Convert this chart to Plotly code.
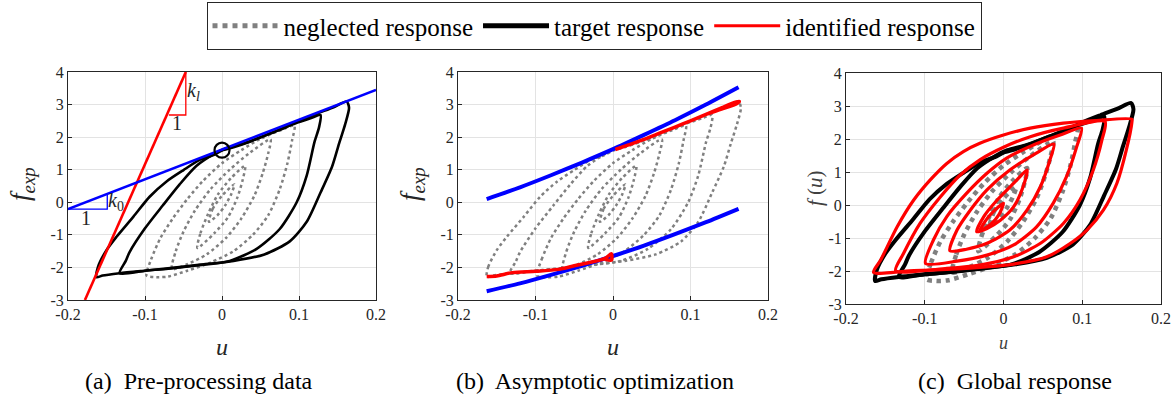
import plotly.graph_objects as go

# ---------------- data ----------------
# target response: outer loop and inner loop
B1_U = [-0.163,-0.161,-0.150,-0.137,-0.115,-0.094,-0.072,-0.050,-0.029,-0.011,0.000,0.015,0.036,0.058,0.080,0.100,0.123,0.145,0.162,0.165,0.160,0.152,0.143,0.128,0.110,0.088,0.055,0.015,-0.030,-0.070,-0.100,-0.133,-0.155,-0.163]
B1_F = [-2.30,-1.98,-1.47,-1.06,-0.44,0.17,0.64,0.99,1.30,1.45,1.59,1.69,1.86,2.07,2.27,2.50,2.72,2.92,3.09,2.90,2.40,1.80,1.10,0.30,-0.60,-1.20,-1.60,-1.80,-1.92,-2.03,-2.10,-2.18,-2.25,-2.30]
B2_U = [-0.133,-0.125,-0.120,-0.100,-0.077,-0.055,-0.033,-0.009,0.005,0.030,0.060,0.090,0.115,0.128,0.126,0.120,0.110,0.097,0.075,0.045,0.010,-0.033,-0.070,-0.100,-0.133]
B2_F = [-2.18,-1.80,-1.53,-0.80,-0.10,0.55,1.12,1.50,1.66,1.82,2.09,2.38,2.58,2.68,2.30,1.84,0.82,0.00,-0.82,-1.43,-1.80,-1.94,-2.04,-2.10,-2.18]

# neglected response: smaller loops
G1_U = [-0.098,-0.092,-0.080,-0.064,-0.045,-0.025,0.000,0.025,0.050,0.075,0.094,0.091,0.085,0.075,0.060,0.040,0.015,-0.015,-0.045,-0.070,-0.085,-0.098]
G1_F = [-2.25,-1.75,-1.10,-0.50,0.10,0.65,1.20,1.60,1.95,2.20,2.35,1.90,1.20,0.40,-0.40,-1.00,-1.50,-1.85,-2.10,-2.28,-2.30,-2.25]
G2_U = [-0.065,-0.060,-0.050,-0.035,-0.015,0.010,0.035,0.063,0.060,0.053,0.042,0.025,0.005,-0.020,-0.045,-0.065]
G2_F = [-2.05,-1.50,-0.90,-0.25,0.40,1.00,1.50,1.93,1.50,0.90,0.20,-0.50,-1.10,-1.60,-1.90,-2.05]
G3_U = [-0.032,-0.028,-0.018,-0.005,0.012,0.030,0.027,0.020,0.008,-0.010,-0.032]
G3_F = [-1.40,-0.95,-0.35,0.25,0.75,1.12,0.70,0.15,-0.45,-0.95,-1.40]
G4_U = [-0.017,-0.012,0.000,0.016,0.012,0.004,-0.006,-0.017]
G4_F = [-0.60,-0.20,0.20,0.55,0.25,-0.10,-0.40,-0.60]

# (a) stiffness lines and triangles
KL_U = [-0.178, -0.047]
KL_F = [-3.0, 4.0]
KL_TRI_U = [-0.047, -0.047, -0.069]
KL_TRI_F = [4.0, 2.68, 2.68]
K0_U = [-0.2, 0.2]
K0_F = [-0.21, 3.45]
K0_TRI_U = [-0.149, -0.149, -0.2]
K0_TRI_F = [0.24, -0.21, -0.21]
CIRCLE_U = [0.0]
CIRCLE_F = [1.60]

# (b) asymptotes and identified branches
BU_U = [-0.163,-0.120,-0.080,-0.040,0.000,0.040,0.080,0.120,0.162]
BU_F = [0.10,0.46,0.83,1.22,1.63,2.07,2.52,3.00,3.53]
BL_U = [-0.163,-0.120,-0.080,-0.040,0.000,0.040,0.080,0.120,0.162]
BL_F = [-2.73,-2.49,-2.23,-1.95,-1.65,-1.33,-0.98,-0.61,-0.20]
RBU_U = [0.003,0.020,0.040,0.060,0.080,0.100,0.120,0.140,0.158,0.163,0.160,0.140,0.120]
RBU_F = [1.62,1.76,1.93,2.12,2.31,2.50,2.70,2.90,3.07,3.10,3.03,2.86,2.70]
RBL_U = [-0.163,-0.150,-0.130,-0.100,-0.070,-0.050,-0.030,-0.010,-0.002,-0.002,-0.010]
RBL_F = [-2.28,-2.26,-2.16,-2.12,-2.06,-1.95,-1.85,-1.72,-1.58,-1.78,-1.75]

# (c) identified loops
R1_U = [-0.165,-0.156,-0.135,-0.114,-0.093,-0.072,-0.051,-0.030,0.000,0.034,0.076,0.118,0.163,0.163,0.156,0.144,0.127,0.106,0.085,0.055,0.013,-0.030,-0.072,-0.114,-0.165]
R1_F = [-2.04,-1.67,-0.66,0.15,0.76,1.26,1.62,1.87,2.12,2.33,2.48,2.56,2.60,2.50,1.67,0.66,-0.15,-0.76,-1.16,-1.57,-1.79,-1.89,-1.95,-1.99,-2.04]
R2_U = [-0.137,-0.127,-0.106,-0.080,-0.055,-0.030,0.000,0.034,0.076,0.129,0.125,0.114,0.097,0.076,0.047,0.013,-0.030,-0.072,-0.137]
R2_F = [-1.99,-1.47,-0.56,0.25,0.91,1.37,1.75,2.07,2.33,2.53,1.97,1.06,0.15,-0.56,-1.16,-1.57,-1.82,-1.92,-1.99]
R3_U = [-0.099,-0.089,-0.072,-0.047,-0.021,0.004,0.038,0.072,0.099,0.093,0.080,0.063,0.042,0.013,-0.021,-0.059,-0.099]
R3_F = [-1.77,-1.06,-0.35,0.35,0.96,1.42,1.82,2.12,2.33,1.77,0.86,0.05,-0.66,-1.21,-1.52,-1.70,-1.77]
R4_U = [-0.068,-0.059,-0.042,-0.021,0.008,0.038,0.064,0.059,0.047,0.030,0.008,-0.021,-0.047,-0.068]
R4_F = [-1.39,-0.76,-0.15,0.46,1.06,1.52,1.85,1.37,0.56,-0.15,-0.76,-1.16,-1.34,-1.39]
R5_U = [-0.034,-0.025,-0.008,0.013,0.030,0.025,0.013,-0.004,-0.021,-0.034]
R5_F = [-0.81,-0.35,0.15,0.66,1.06,0.56,-0.05,-0.46,-0.71,-0.81]
R6_U = [-0.030,-0.022,-0.012,0.000,-0.006,-0.016,-0.030]
R6_F = [-0.78,-0.45,-0.18,0.05,-0.30,-0.58,-0.78]

X_TICKS = [-0.2, -0.1, 0, 0.1, 0.2]
X_LABELS = ["-0.2", "-0.1", "0", "0.1", "0.2"]
Y_TICKS = [-3, -2, -1, 0, 1, 2, 3, 4]
Y_LABELS = ["-3", "-2", "-1", "0", "1", "2", "3", "4"]

LEGEND_NAMES = ["neglected response", "target response", "identified response"]
CAPTIONS = ["(a)&nbsp; Pre-processing data", "(b)&nbsp; Asymptotic optimization", "(c)&nbsp; Global response"]

# ---------------- figure ----------------
W, H = 1175, 394
GRAY = "#808080"
RED = "#ff0000"
BLUE = "#0000ff"
FONT = "serif"

fig = go.Figure()

def line(xs, ys, color, width, ax, dash="solid", shape="spline"):
    fig.add_trace(go.Scatter(x=xs, y=ys, mode="lines", showlegend=False, hoverinfo="skip",
                             line=dict(color=color, width=width, dash=dash, shape=shape, smoothing=0.7),
                             xaxis="x" + ("" if ax == 1 else str(ax)), yaxis="y" + ("" if ax == 1 else str(ax))))

GRAY_LOOPS = [(G1_U, G1_F), (G2_U, G2_F), (G3_U, G3_F), (G4_U, G4_F)]
BLACK_LOOPS = [(B1_U, B1_F), (B2_U, B2_F)]
RED_LOOPS = [(R1_U, R1_F), (R2_U, R2_F), (R3_U, R3_F), (R4_U, R4_F), (R5_U, R5_F), (R6_U, R6_F)]

# panel (a)
for u, f in GRAY_LOOPS:
    line(u, f, GRAY, 2.5, 1, dash="dot")
for u, f in BLACK_LOOPS:
    line(u, f, "black", 2.6, 1)
line(KL_U, KL_F, RED, 2.6, 1, shape="linear")
line(KL_TRI_U, KL_TRI_F, RED, 1.3, 1, shape="linear")
line(K0_U, K0_F, BLUE, 2.6, 1, shape="linear")
line(K0_TRI_U, K0_TRI_F, BLUE, 1.3, 1, shape="linear")
fig.add_trace(go.Scatter(x=CIRCLE_U, y=CIRCLE_F, mode="markers", showlegend=False, hoverinfo="skip",
                         marker=dict(symbol="circle-open", size=15, color="black", line=dict(width=2.2, color="black")),
                         xaxis="x", yaxis="y"))

# panel (b)
for u, f in BLACK_LOOPS + GRAY_LOOPS:
    line(u, f, GRAY, 2.5, 2, dash="dot")
line(BU_U, BU_F, BLUE, 4, 2)
line(BL_U, BL_F, BLUE, 4, 2)
line(RBU_U, RBU_F, RED, 3.5, 2)
line(RBL_U, RBL_F, RED, 3.5, 2)

# panel (c)
for u, f in GRAY_LOOPS:
    line(u, f, GRAY, 4.5, 3, dash="dot")
for u, f in BLACK_LOOPS:
    line(u, f, "black", 4, 3)
for u, f in RED_LOOPS:
    line(u, f, RED, 3.2, 3)

# legend entries
fig.add_trace(go.Scatter(x=[None], y=[None], mode="lines", name=LEGEND_NAMES[0],
                         line=dict(color=GRAY, width=5, dash="dot")))
fig.add_trace(go.Scatter(x=[None], y=[None], mode="lines", name=LEGEND_NAMES[1],
                         line=dict(color="black", width=5)))
fig.add_trace(go.Scatter(x=[None], y=[None], mode="lines", name=LEGEND_NAMES[2],
                         line=dict(color=RED, width=3)))

def px_x(p):
    return p / W

def px_y(p):
    return 1 - p / H

domains = [((68, 376), (72, 300)), ((458, 768), (72, 300)), ((846, 1161), (73, 304))]

axis_common = dict(showline=True, mirror=True, linecolor="#262626", linewidth=1,
                   ticks="inside", ticklen=4, tickcolor="#262626", automargin=False,
                   showgrid=True, gridcolor="#e3e3e3", gridwidth=1, zeroline=False,
                   tickfont=dict(family=FONT, size=16, color="#262626"))

for i, ((x0, x1), (y0, y1)) in enumerate(domains, start=1):
    suffix = "" if i == 1 else str(i)
    fig.layout["xaxis" + suffix] = dict(domain=[px_x(x0), px_x(x1)], range=[-0.2, 0.2],
                                        tickvals=X_TICKS, ticktext=X_LABELS, anchor="y" + suffix,
                                        **axis_common)
    fig.layout["yaxis" + suffix] = dict(domain=[px_y(y1), px_y(y0)], range=[-3, 4],
                                        tickvals=Y_TICKS, ticktext=Y_LABELS, anchor="x" + suffix,
                                        **axis_common)

annotations = []
def ann(text, xp, yp, size, angle=0, color="#262626", xref="paper", yref="paper"):
    annotations.append(dict(text=text, x=xp, y=yp, xref=xref, yref=yref, showarrow=False,
                            textangle=angle, font=dict(family=FONT, size=size, color=color),
                            xanchor="center", yanchor="middle"))

# axis titles
ann("<i>f</i><sub><i>exp</i></sub>", px_x(22), px_y(184), 27, angle=-90)
ann("<i>f</i><sub><i>exp</i></sub>", px_x(412), px_y(184), 27, angle=-90)
ann("<i>f</i> (<i>u</i>)", px_x(815), px_y(188), 21, angle=-90, color="#404040")
ann("<i>u</i>", px_x(222), px_y(347), 24)
ann("<i>u</i>", px_x(613), px_y(347), 24)
ann("<i>u</i>", px_x(1003), px_y(343), 18, color="#404040")

# panel (a) labels
ann("<i>k<sub>l</sub></i>", -0.037, 3.4, 20, xref="x", yref="y")
ann("1", -0.059, 2.42, 20, xref="x", yref="y")
ann("<i>k</i><sub>0</sub>", -0.138, 0.02, 20, xref="x", yref="y")
ann("1", -0.176, -0.47, 20, xref="x", yref="y")

# captions
ann(CAPTIONS[0], px_x(199), px_y(381), 24, color="black")
ann(CAPTIONS[1], px_x(595), px_y(381), 24, color="black")
ann(CAPTIONS[2], px_x(1015), px_y(381), 24, color="black")

fig.update_layout(
    template="none",
    width=W, height=H,
    margin=dict(l=0, r=0, t=0, b=0, autoexpand=False),
    paper_bgcolor="white", plot_bgcolor="white",
    font=dict(family=FONT),
    annotations=annotations,
    showlegend=True,
    legend=dict(orientation="h", x=px_x(594), xanchor="center", y=px_y(2), yanchor="top",
                font=dict(family=FONT, size=25, color="black"),
                bgcolor="white", bordercolor="#262626", borderwidth=1,
                itemwidth=66, tracegroupgap=0),
)

fig.write_html("out.html", config={"displayModeBar": False},
               post_script="document.body.style.margin='0px';")
